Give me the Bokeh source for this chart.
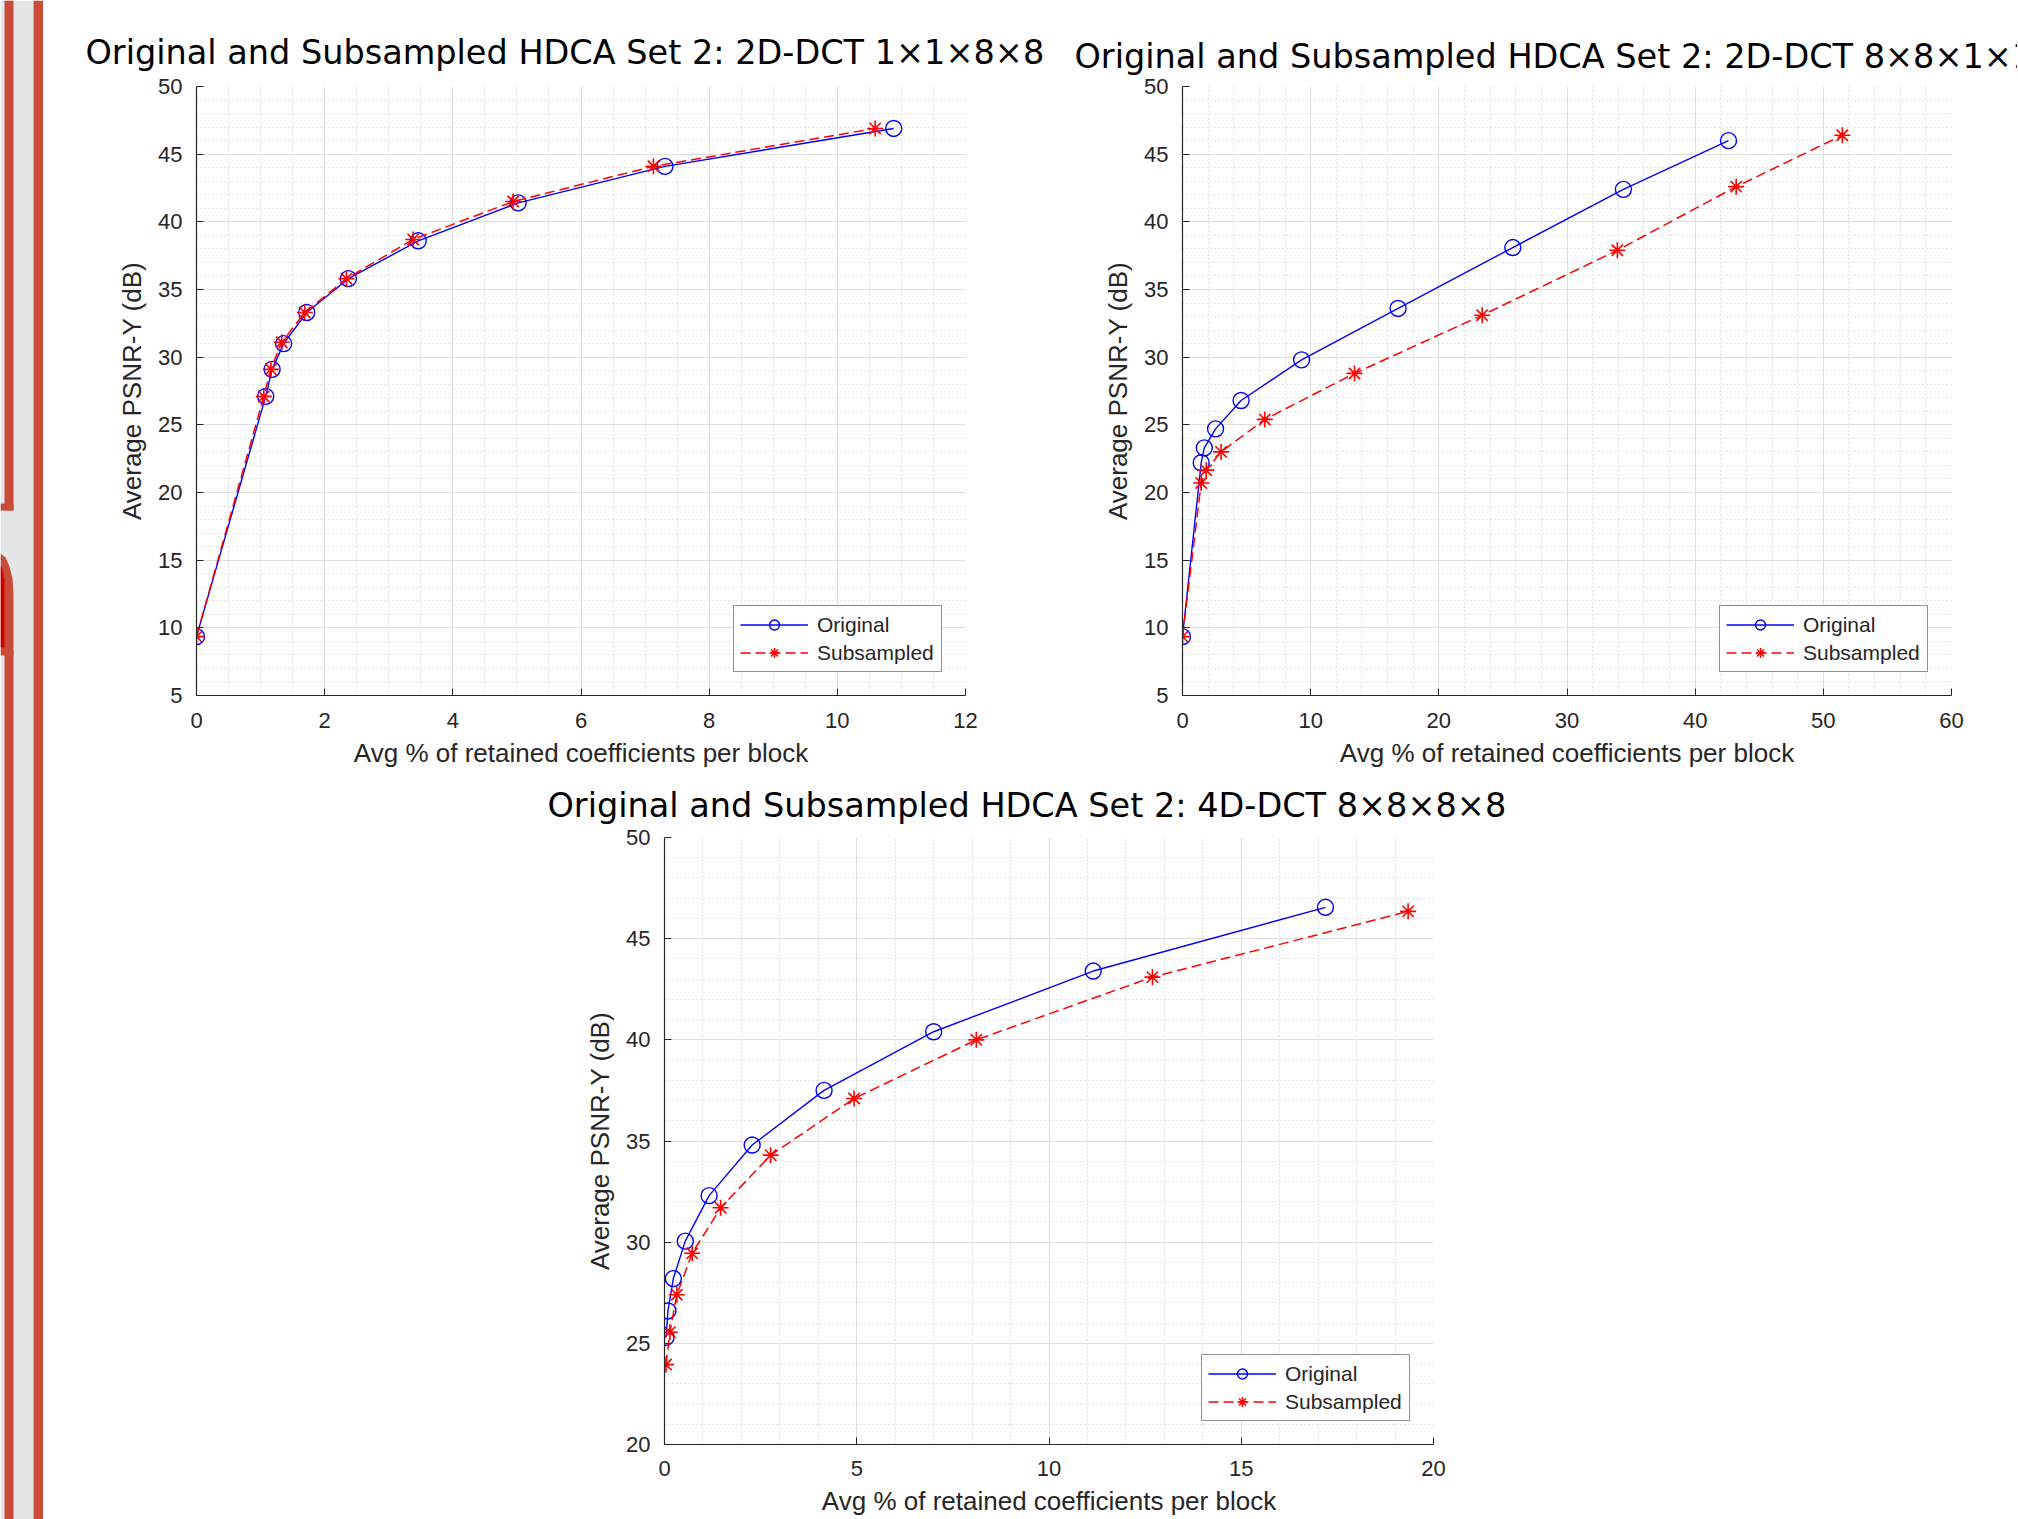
from bokeh.plotting import figure
from bokeh.models import Range1d, SingleIntervalTicker, Legend, LegendItem
from bokeh.layouts import row, column
from bokeh.embed import file_html
from bokeh.resources import INLINE

# ---------------- data ----------------
titles = [
    "Original and Subsampled HDCA Set 2: 2D-DCT 1×1×8×8",
    "Original and Subsampled HDCA Set 2: 2D-DCT 8×8×1×1",
    "Original and Subsampled HDCA Set 2: 4D-DCT 8×8×8×8",
]
x_label = "Avg % of retained coefficients per block"
y_label = "Average PSNR-Y (dB)"
series_names = ["Original", "Subsampled"]

p1_orig_x = [0.0, 1.08, 1.18, 1.36, 1.72, 2.37, 3.46, 5.02, 7.31, 10.88]
p1_orig_y = [9.35, 27.1, 29.1, 31.0, 33.3, 35.8, 38.6, 41.4, 44.1, 46.9]
p1_sub_x = [0.0, 1.05, 1.16, 1.33, 1.69, 2.34, 3.38, 4.94, 7.13, 10.59]
p1_sub_y = [9.35, 27.1, 29.1, 31.1, 33.3, 35.8, 38.7, 41.5, 44.1, 46.9]

p2_orig_x = [0.0, 1.46, 1.70, 2.58, 4.57, 9.29, 16.82, 25.77, 34.4, 42.6]
p2_orig_y = [9.35, 22.2, 23.3, 24.7, 26.8, 29.8, 33.6, 38.1, 42.4, 46.0]
p2_sub_x = [0.0, 1.46, 1.85, 3.01, 6.42, 13.42, 23.38, 33.93, 43.2, 51.48]
p2_sub_y = [9.35, 20.7, 21.65, 23.0, 25.4, 28.8, 33.1, 37.9, 42.6, 46.4]

p3_orig_x = [0.04, 0.09, 0.23, 0.54, 1.16, 2.28, 4.15, 7.0, 11.15, 17.19]
p3_orig_y = [25.3, 26.6, 28.2, 30.05, 32.3, 34.8, 37.5, 40.4, 43.4, 46.55]
p3_sub_x = [0.04, 0.14, 0.32, 0.72, 1.46, 2.76, 4.93, 8.11, 12.69, 19.34]
p3_sub_y = [23.95, 25.55, 27.4, 29.45, 31.7, 34.3, 37.1, 40.0, 43.1, 46.35]

x_max = [12, 60, 20]
x_step = [2, 10, 5]
x_minor = [4, 5, 5]
y_min = [5, 5, 20]
y_max = 50
y_step = 5

# ---------------- style ----------------
AX = "#262626"
FONT = "Liberation Sans"
BLUE = "#0000ff"
RED = "#ff0000"


def make_plot(i, ox, oy, sx, sy, width, height, mbl, mbr, mbt, mbb,
              title_offset, title_standoff, x_std, x_lbl_std):
    p = figure(width=width, height=height,
               x_range=Range1d(0, x_max[i]), y_range=Range1d(y_min[i], y_max),
               output_backend="svg", toolbar_location=None,
               min_border_left=mbl, min_border_right=mbr,
               min_border_top=mbt, min_border_bottom=mbb)
    p.outline_line_color = None
    p.background_fill_color = "white"
    p.border_fill_color = "white"

    p.title.text = titles[i]
    p.title.text_font = "DejaVu Sans"
    p.title.text_font_size = "33.5px"
    p.title.text_font_style = "normal"
    p.title.text_color = "#000000"
    p.title.align = "left"
    p.title.offset = title_offset
    p.title.standoff = title_standoff

    p.xaxis.ticker = SingleIntervalTicker(interval=x_step[i], num_minor_ticks=x_minor[i])
    p.yaxis.ticker = SingleIntervalTicker(interval=y_step, num_minor_ticks=5)

    for ax in (p.xaxis[0], p.yaxis[0]):
        ax.axis_line_color = AX
        ax.axis_line_width = 1.2
        ax.major_tick_line_color = AX
        ax.major_tick_in = 7
        ax.major_tick_out = 0
        ax.minor_tick_line_color = None
        ax.major_label_text_font = FONT
        ax.major_label_text_font_size = "22px"
        ax.major_label_text_color = AX
        ax.axis_label_text_font = FONT
        ax.axis_label_text_font_size = "26px"
        ax.axis_label_text_font_style = "normal"
        ax.axis_label_text_color = AX
    p.xaxis.axis_label = x_label
    p.yaxis.axis_label = y_label
    p.xaxis.major_label_standoff = x_std
    p.xaxis.axis_label_standoff = x_lbl_std
    p.yaxis.major_label_standoff = 10
    p.yaxis.axis_label_standoff = 8

    for g in (p.xgrid[0], p.ygrid[0]):
        g.grid_line_color = "#dedede"
        g.grid_line_width = 1
        g.minor_grid_line_color = "#c4c4c4"
        g.minor_grid_line_dash = "1 3"
        g.minor_grid_line_width = 1

    l1 = p.line(ox, oy, line_color=BLUE, line_width=1.4)
    m1 = p.scatter(ox, oy, marker="circle", size=16, fill_color=None,
                   line_color=BLUE, line_width=1.4)
    l2 = p.line(sx, sy, line_color=RED, line_width=1.5, line_dash="10 5")
    m2 = p.scatter(sx, sy, marker="asterisk", size=16,
                   line_color=RED, line_width=1.6)

    legend = Legend(items=[LegendItem(label=series_names[0], renderers=[l1, m1]),
                           LegendItem(label=series_names[1], renderers=[l2, m2])],
                    location="bottom_right", margin=23, padding=6, spacing=3,
                    glyph_width=68, glyph_height=25, label_standoff=9,
                    label_width=118, label_height=25,
                    label_text_font=FONT, label_text_font_size="21px",
                    label_text_color=AX,
                    border_line_color=AX, border_line_width=1.2,
                    background_fill_color="white", background_fill_alpha=1.0)
    p.add_layout(legend, "center")
    return p


p1 = make_plot(0, p1_orig_x, p1_orig_y, p1_sub_x, p1_sub_y,
               width=1015, height=771, mbl=153, mbr=93, mbt=86, mbb=76,
               title_offset=-111, title_standoff=29, x_std=13, x_lbl_std=7)
p2 = make_plot(1, p2_orig_x, p2_orig_y, p2_sub_x, p2_sub_y,
               width=959, height=771, mbl=124, mbr=66, mbt=86, mbb=76,
               title_offset=-108, title_standoff=21, x_std=13, x_lbl_std=7)
p3 = make_plot(2, p3_orig_x, p3_orig_y, p3_sub_x, p3_sub_y,
               width=1480, height=747, mbl=621, mbr=90, mbt=65, mbb=73,
               title_offset=-117, title_standoff=25, x_std=12, x_lbl_std=7)

# ---------------- decorative left strip (page background element) ----------------
strip_gray = "#e4e5e7"
strip_red = "#c84c38"
strip_dark = "#d20000"
strip = figure(width=43, height=1519, x_range=Range1d(0, 43), y_range=Range1d(1519, 0),
               output_backend="svg", toolbar_location=None,
               min_border=0, min_border_left=0, min_border_right=0,
               min_border_top=0, min_border_bottom=0)
strip.axis.visible = False
strip.grid.visible = False
strip.outline_line_color = None
strip.border_fill_color = "white"
strip.background_fill_color = "white"
strip.quad(left=[0], right=[33], top=[0], bottom=[1519], fill_color=strip_gray, line_color=None)
strip.quad(left=[33], right=[42.5], top=[0], bottom=[1519], fill_color=strip_red, line_color=None)
strip.quad(left=[4], right=[13], top=[0], bottom=[510], fill_color=strip_red, line_color=None)
strip.quad(left=[0], right=[13], top=[503], bottom=[510], fill_color=strip_red, line_color=None)
strip.patch(x=[0, 5, 9, 12, 13, 13, 0], y=[553, 557, 566, 578, 593, 655, 655],
            fill_color=strip_red, line_color=None)
strip.patch(x=[0, 2, 4, 4, 0], y=[565, 569, 580, 647, 647],
            fill_color=strip_dark, line_color=None)
strip.quad(left=[4], right=[13], top=[650], bottom=[1519], fill_color=strip_red, line_color=None)

layout = row(strip, column(row(p1, p2), p3))

open("out.html", "w").write(file_html(layout, INLINE))
